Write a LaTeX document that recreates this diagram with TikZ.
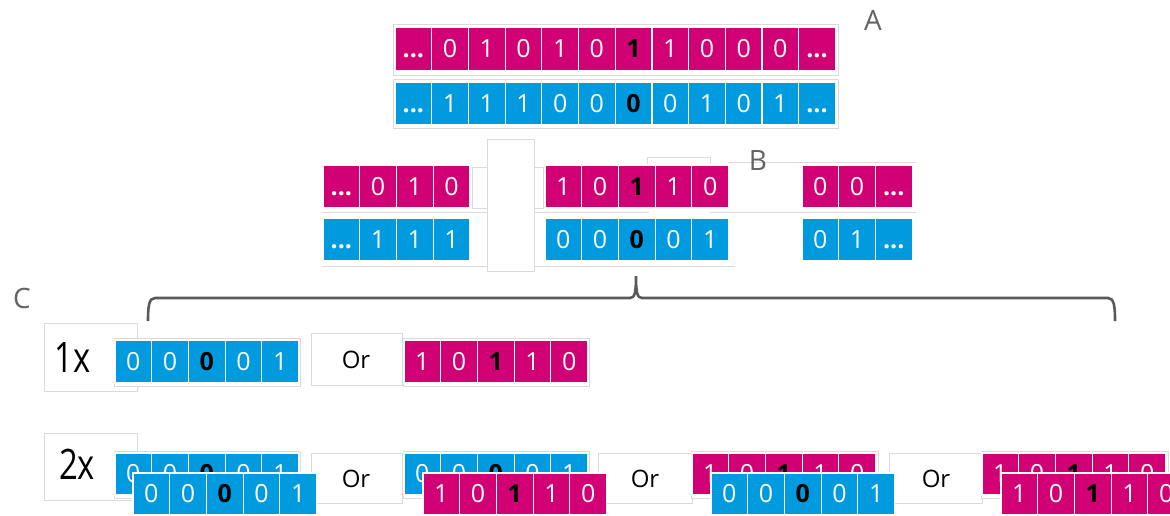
\documentclass[tikz,border=0pt]{standalone}
\usepackage{fontspec}
\setmainfont{Open Sans}
\definecolor{mag}{RGB}{209,0,116}
\definecolor{cyb}{RGB}{0,155,222}
\definecolor{framec}{RGB}{218,218,218}
\definecolor{lbl}{RGB}{100,100,100}
\definecolor{brc}{RGB}{90,90,90}
\newcommand{\hbit}[1]{{\color{black}\bfseries #1}}
\newcommand{\ellp}{{\bfseries ...}}
\newcommand{\bitrow}[6]{%
  \foreach \v [count=\k from 0] in {#6} {
    \node[bitcell, fill=#5, minimum height=#4pt] (#1-\k) at ({#2+\k*36.7+18.35},{#3+#4/2}) {\v};
  }}
\tikzset{
  bitcell/.style={draw=white, line width=1.2pt, minimum width=36.7pt, inner sep=0pt,
    text=white, font=\fontsize{25}{25}\selectfont, text height=17.9pt, text depth=0pt},
  framebox/.style={draw=framec, fill=white, line width=1pt},
  faint/.style={draw=framec, line width=1pt},
  lettr/.style={text=lbl, font=\fontsize{28}{28}\selectfont, anchor=base, inner sep=0pt},
  ortext/.style={text=black, font=\fontsize{24}{24}\selectfont, anchor=base, inner sep=0pt},
  multtext/.style={text=black, font=\fontsize{42}{42}\selectfont, anchor=base, inner sep=0pt},
  brace/.style={draw=brc, line width=2.6pt}
}
\begin{document}
\begin{tikzpicture}[x=1pt,y=-1pt]
\clip (0,0) rectangle (1170,515);
\fill[white] (0,0) rectangle (1170,515);

% ---------- A ----------
\draw[framebox] (393,24) rectangle (838,75);
\draw[framebox] (393,79) rectangle (838,128);
\bitrow{am}{395}{27}{44}{mag}{\ellp,0,1,0,1,0,\hbit{1},1,0,0,0,\ellp}
\bitrow{ab}{395}{82}{43}{cyb}{\ellp,1,1,1,0,0,\hbit{0},0,1,0,1,\ellp}
\node[lettr] (labA) at (873,30) {A};

% ---------- B ----------
\draw[faint] (322,212) -- (487,212);
\draw[faint] (534,212) -- (649,212);
\draw[faint] (710,212) -- (916,212);
\draw[faint] (728,162) -- (916,162);
\draw[faint] (322,266) -- (487,266);
\draw[faint] (534,266) -- (735,266);
\draw[framebox] (472,167) rectangle (487,208);
\draw[framebox] (534,167) rectangle (543,208);
\draw[framebox] (487,139) rectangle (534,271);
\draw[faint] (647,165) -- (647,157) -- (710,157) -- (710,165);
\bitrow{bm1}{323}{165}{43}{mag}{\ellp,0,1,0}
\bitrow{bb1}{323}{218}{43}{cyb}{\ellp,1,1,1}
\bitrow{bm2}{545}{165}{43}{mag}{1,0,\hbit{1},1,0}
\bitrow{bb2}{545}{218}{43}{cyb}{0,0,\hbit{0},0,1}
\bitrow{bm3}{802}{165}{43}{mag}{0,0,\ellp}
\bitrow{bb3}{802}{218}{43}{cyb}{0,1,\ellp}
\node[lettr] (labB) at (758,170) {B};

% ---------- brace ----------
\draw[brace] (148,321) .. controls (148,306) and (149,298) .. (155,298) -- (630,298)
  .. controls (635,298) and (636,292) .. (636,276)
  .. controls (636,292) and (637,298) .. (642,298) -- (1108,298)
  .. controls (1114,298) and (1115,306) .. (1115,321);
\node[lettr] (labC) at (22,308) {C};

% ---------- C : 1x ----------
\draw[framebox] (44,323) rectangle (137,391);
\node[multtext] (m1) at (72.5,372) {\scalebox{0.78}[1]{1x}};
\draw[framebox] (114,338) rectangle (300,386);
\bitrow{c1b}{115}{340}{43}{cyb}{0,0,\hbit{0},0,1}
\draw[framebox] (311,333) rectangle (402,385);
\node[ortext] (or1) at (356,368) {Or};
\draw[framebox] (403,338) rectangle (589,386);
\bitrow{c1m}{404}{340}{43}{mag}{1,0,\hbit{1},1,0}

% ---------- C : 2x ----------
\draw[framebox] (44,433) rectangle (137,500);
\node[multtext] (m2) at (77,479) {\scalebox{0.78}[1]{2x}};
\draw[framebox] (311,453) rectangle (402,503);
\node[ortext] (or2) at (356,487) {Or};
\draw[framebox] (598,453) rectangle (692,503);
\node[ortext] (or3) at (645,487) {Or};
\draw[framebox] (889,453) rectangle (982,503);
\node[ortext] (or4) at (936,487) {Or};
% back rows
\draw[framebox] (114,451) rectangle (300,498);
\bitrow{g1b}{115}{453}{42}{cyb}{0,0,\hbit{0},0,1}
\draw[framebox] (403,451) rectangle (589,498);
\bitrow{g2b}{404}{453}{42}{cyb}{0,0,\hbit{0},0,1}
\draw[framebox] (691,451) rectangle (878,498);
\bitrow{g3b}{692}{453}{42}{mag}{1,0,\hbit{1},1,0}
\draw[framebox] (981,451) rectangle (1168,498);
\bitrow{g4b}{982}{453}{42}{mag}{1,0,\hbit{1},1,0}
% front rows
\bitrow{g1f}{133}{473}{42}{cyb}{0,0,\hbit{0},0,1}
\bitrow{g2f}{423}{473}{42}{mag}{1,0,\hbit{1},1,0}
\bitrow{g3f}{711}{473}{42}{cyb}{0,0,\hbit{0},0,1}
\bitrow{g4f}{1001}{473}{42}{mag}{1,0,\hbit{1},1,0}
\end{tikzpicture}
\end{document}
